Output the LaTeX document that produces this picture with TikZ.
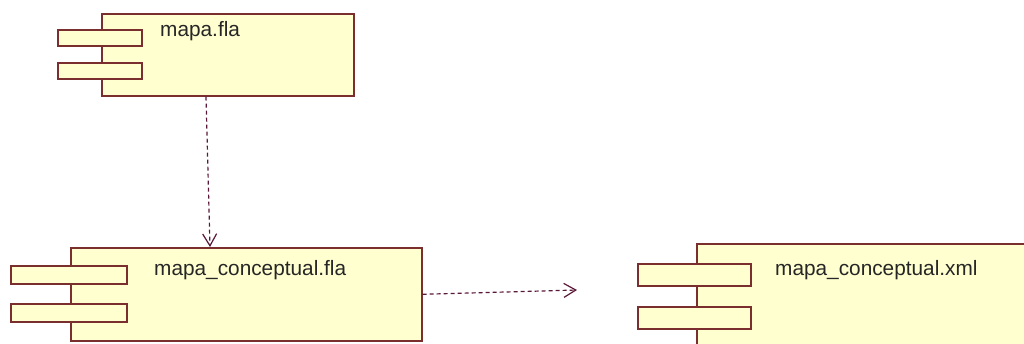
\documentclass[tikz,border=0pt]{standalone}
\usepackage{fontspec}
\setmainfont{Liberation Sans}
\usetikzlibrary{arrows.meta,calc}
\definecolor{bordc}{HTML}{7A2E2E}
\definecolor{fillc}{HTML}{FFFFD0}
\definecolor{arrc}{HTML}{5A1838}
\tikzset{
  comp/.style={draw=bordc, fill=fillc, line width=1.6pt, inner sep=0pt, anchor=north west},
  lbl/.style={anchor=base west, inner sep=0pt, font=\fontsize{20.8}{24}\selectfont, text=black!85},
  dep/.style={draw=arrc, line width=1.2pt, dash pattern=on 4pt off 3pt, -{Straight Barb[length=12pt,width=14pt,line width=1.2pt]}}
}
\begin{document}
\begin{tikzpicture}[x=1pt,y=-1pt]
\useasboundingbox (0,0) rectangle (1024,343);
\fill[white] (0,0) rectangle (1024,343);
\clip (0,0) rectangle (1024,343);
% mapa.fla
\node[comp, minimum width=252pt, minimum height=82pt] (a) at (101,13) {};
\node[comp, minimum width=84pt, minimum height=16pt] (a1) at (57,29) {};
\node[comp, minimum width=84pt, minimum height=16pt] (a2) at (57,62) {};
\node[lbl] (at) at (160,36) {mapa.fla};
% mapa_conceptual.fla
\node[comp, minimum width=351pt, minimum height=93pt] (b) at (70,247) {};
\node[comp, minimum width=116pt, minimum height=18pt] (b1) at (10,265) {};
\node[comp, minimum width=116pt, minimum height=18pt] (b2) at (10,303) {};
\node[lbl] (bt) at (154,275) {mapa\_conceptual.fla};
% mapa_conceptual.xml
\node[comp, minimum width=340pt, minimum height=110pt] (c) at (696,243) {};
\node[comp, minimum width=113pt, minimum height=22pt] (c1) at (637,263) {};
\node[comp, minimum width=113pt, minimum height=22pt] (c2) at (637,306) {};
\node[lbl] (ct) at (775,275) {mapa\_conceptual.xml};
% dependencies
\draw[dep] ([xshift=105pt]a.south west) -- ([xshift=140pt]b.north west);
\coordinate (h) at (577,290);
\draw[dep] (b.east) -- (h);
\end{tikzpicture}
\end{document}
